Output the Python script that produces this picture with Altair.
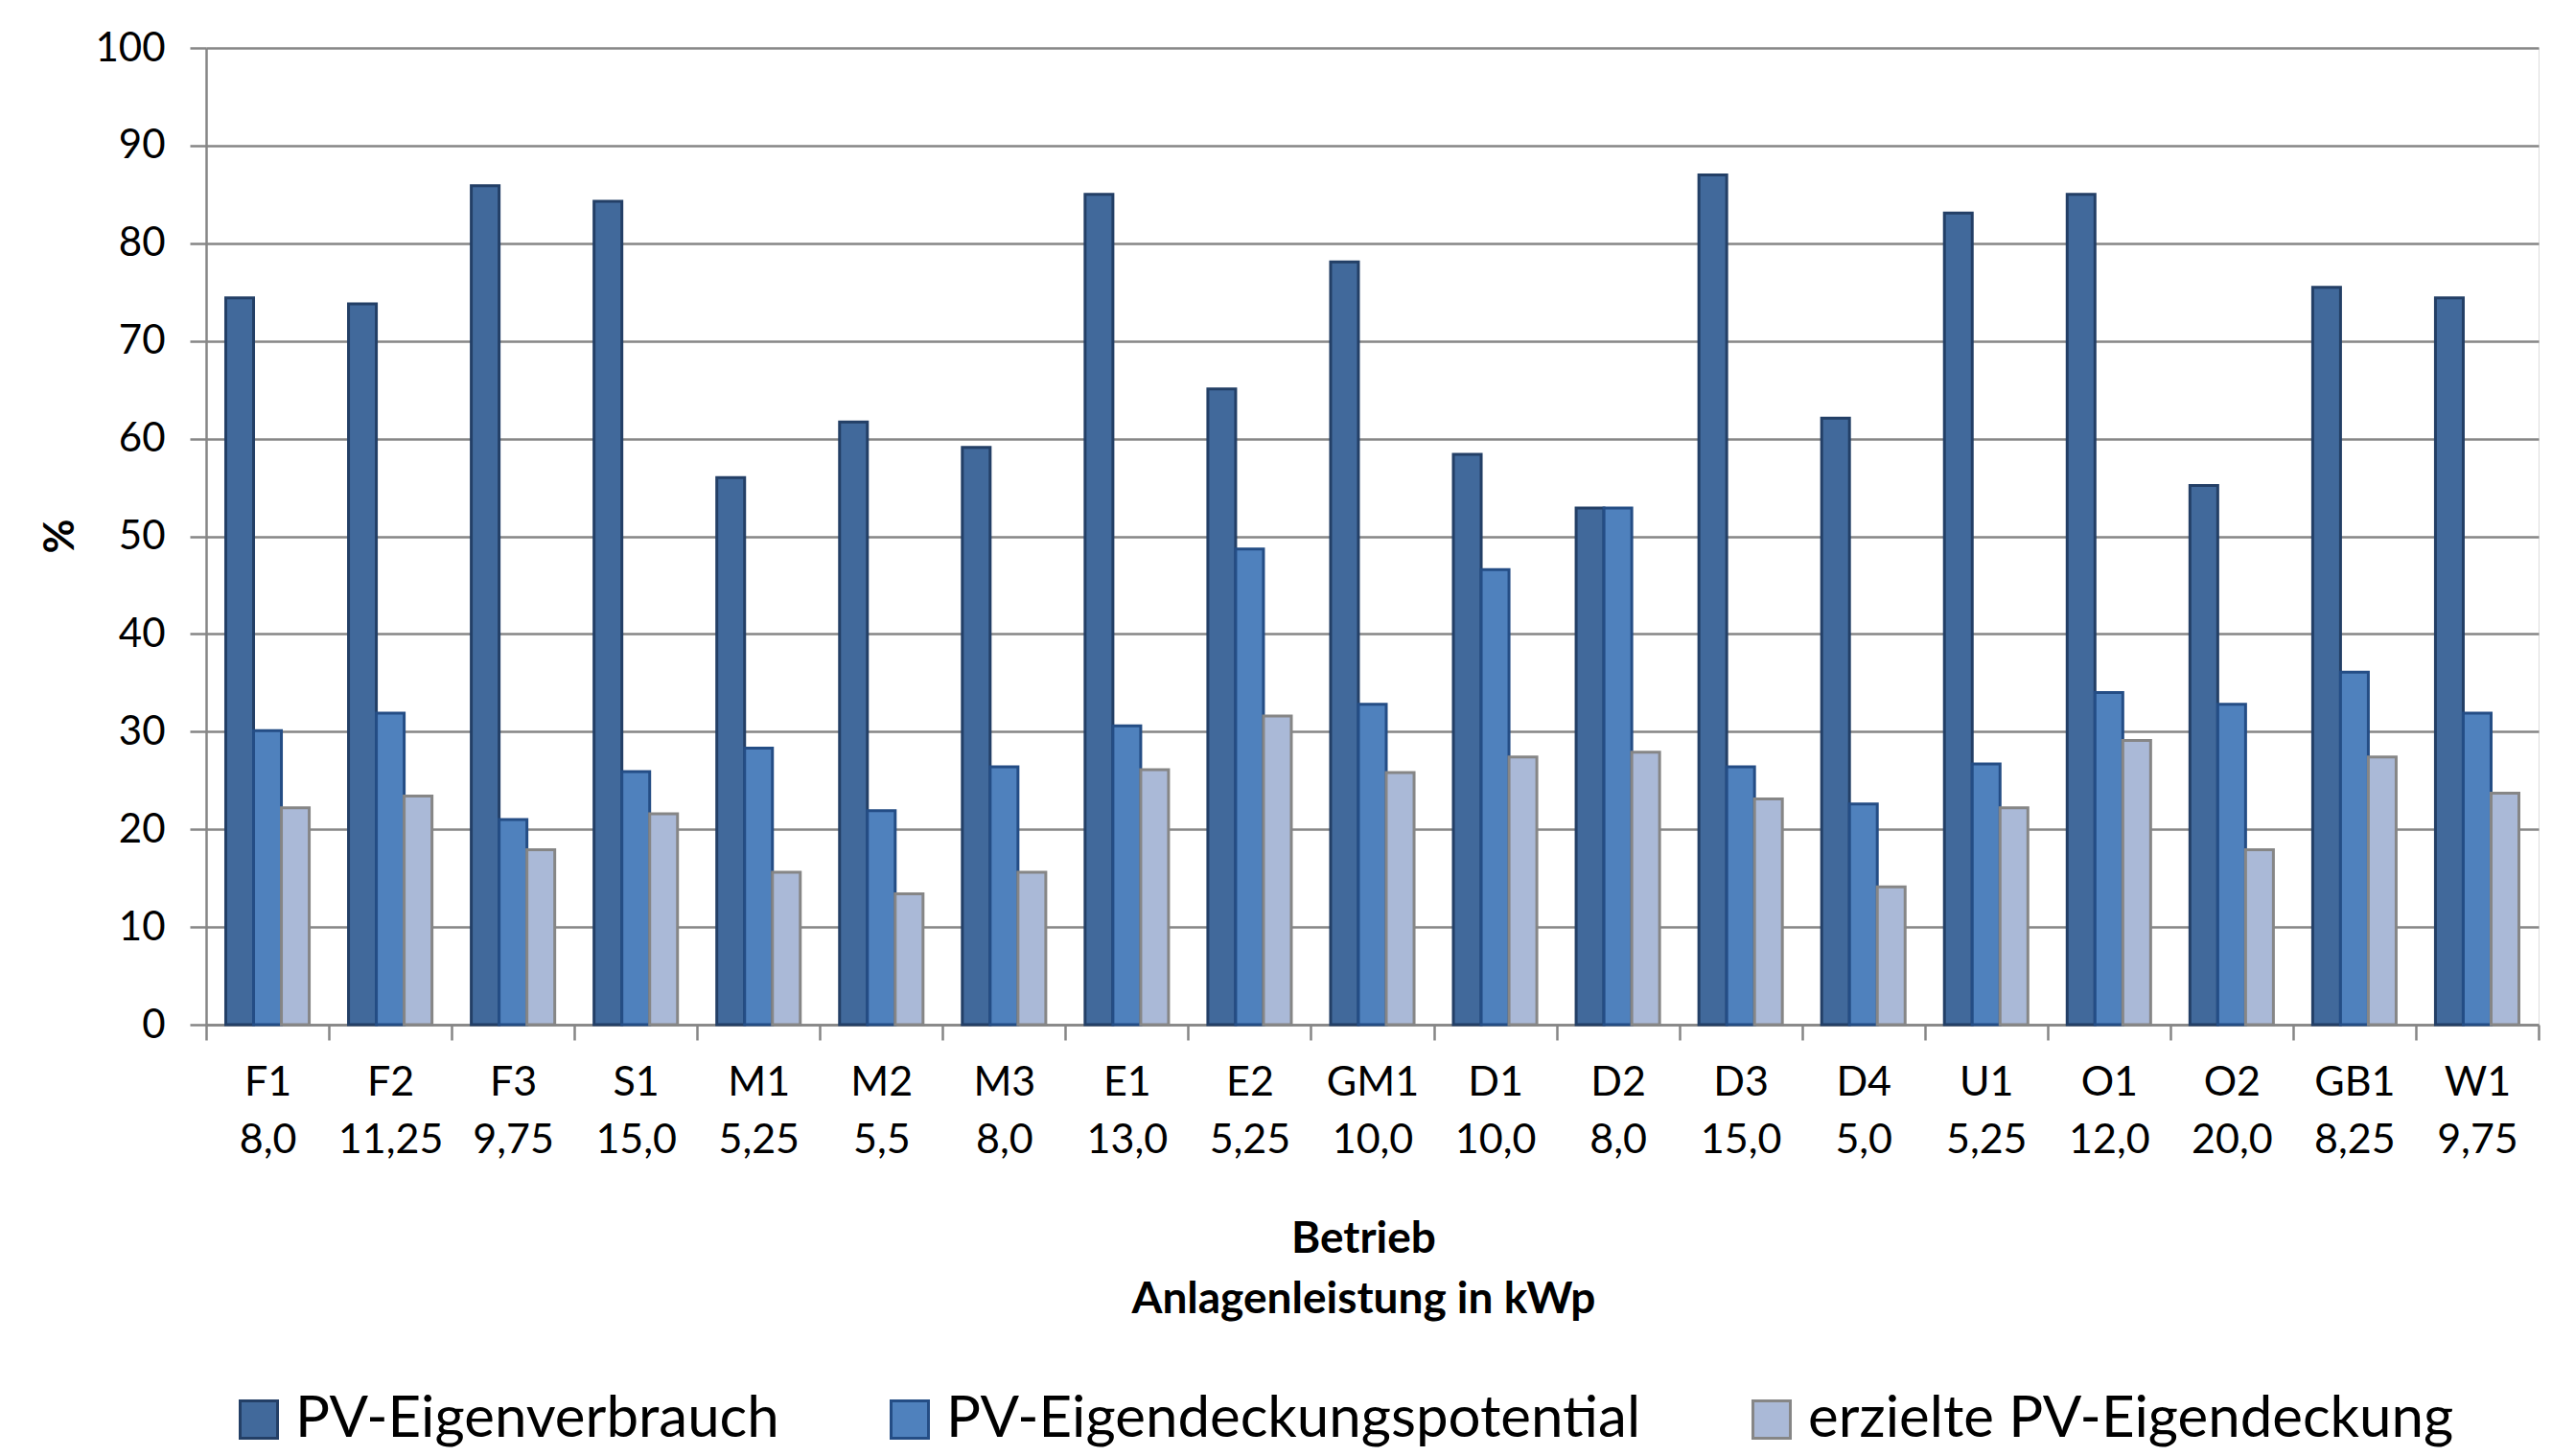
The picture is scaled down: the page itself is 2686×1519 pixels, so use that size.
import altair as alt
import pandas as pd

betrieb = ["F1", "F2", "F3", "S1", "M1", "M2", "M3", "E1", "E2", "GM1",
           "D1", "D2", "D3", "D4", "U1", "O1", "O2", "GB1", "W1"]
leistung = ["8,0", "11,25", "9,75", "15,0", "5,25", "5,5", "8,0", "13,0", "5,25", "10,0",
            "10,0", "8,0", "15,0", "5,0", "5,25", "12,0", "20,0", "8,25", "9,75"]
eigenverbrauch = [74.4, 73.8, 85.9, 84.3, 56.0, 61.7, 59.1, 85.0, 65.1, 78.1,
                  58.4, 52.9, 87.0, 62.1, 83.1, 85.0, 55.2, 75.5, 74.4]
potential = [30.1, 31.9, 21.0, 25.9, 28.3, 21.9, 26.4, 30.6, 48.7, 32.8,
             46.6, 52.9, 26.4, 22.6, 26.7, 34.0, 32.8, 36.1, 31.9]
erzielt = [22.2, 23.4, 17.9, 21.6, 15.6, 13.4, 15.6, 26.1, 31.6, 25.8,
           27.4, 27.9, 23.1, 14.1, 22.2, 29.1, 17.9, 27.4, 23.7]

series = ["PV-Eigenverbrauch", "PV-Eigendeckungspotential", "erzielte PV-Eigendeckung"]
fills = ["#41699B", "#4F81BD", "#AAB9D7"]
strokes = ["#233F66", "#244D85", "#868686"]

cats = [f"{b}|{l}" for b, l in zip(betrieb, leistung)]
rows = []
for i, c in enumerate(cats):
    for s, vals in zip(series, [eigenverbrauch, potential, erzielt]):
        rows.append({"Kategorie": c, "Reihe": s, "Wert": vals[i]})
df = pd.DataFrame(rows)

W, H = 2433, 1019
FONT = "Lato"
GRAY = "#868686"

legend = alt.Legend(
    title=None, orient="none", direction="horizontal", legendX=25, legendY=1401,
    symbolType="square", symbolSize=1521, symbolStrokeWidth=3, symbolOpacity=1,
    labelFontSize=60, labelFont=FONT, labelColor="black", labelOffset=8,
    columnPadding=106, labelLimit=1500, padding=0,
)

chart = alt.Chart(df).mark_bar(strokeWidth=3, opacity=1).encode(
    x=alt.X(
        "Kategorie:N", sort=cats,
        scale=alt.Scale(paddingInner=0, paddingOuter=0),
        axis=alt.Axis(
            title=["Betrieb", "Anlagenleistung in kWp"],
            labelExpr="split(datum.label, '|')", labelAngle=0,
            tickBand="extent", tickSize=16, tickColor=GRAY, tickWidth=2.5,
            domainColor=GRAY, domainWidth=2.5,
            labelPadding=23, labelFontSize=43, labelFont=FONT, labelLineHeight=60,
            labelColor="black", labelBaseline="top",
            titleFontSize=46, titleFont=FONT, titleFontWeight="bold", titleLineHeight=63,
            titleY=223, titleX=1207, titleBaseline="middle", titleColor="black",
            grid=False,
        ),
    ),
    xOffset=alt.XOffset(
        "Reihe:N", sort=series,
        scale=alt.Scale(domain=series, paddingInner=0, paddingOuter=0.706),
    ),
    y=alt.Y(
        "Wert:Q",
        scale=alt.Scale(domain=[0, 100], nice=False),
        axis=alt.Axis(
            values=list(range(0, 101, 10)), title="%",
            tickSize=17, tickColor=GRAY, tickWidth=2.5,
            domainColor=GRAY, domainWidth=2.5,
            gridColor=GRAY, gridWidth=2.5, grid=True,
            labelPadding=26, labelFontSize=42, labelFont=FONT, labelColor="black",
            titleFontSize=44, titleFont=FONT, titleFontWeight="bold", titleColor="black",
            titleX=-152, titleY=509, titleAngle=270, titleBaseline="middle", titleAlign="center",
        ),
    ),
    color=alt.Color("Reihe:N", sort=series,
                    scale=alt.Scale(domain=series, range=fills), legend=legend),
    stroke=alt.Stroke("Reihe:N", sort=series,
                      scale=alt.Scale(domain=series, range=strokes), legend=legend),
).properties(
    width=W, height=H,
    autosize=alt.AutoSizeParams(type="none"),
    padding={"left": 215, "top": 50, "right": 38, "bottom": 450},
).configure_view(stroke=None).configure(background="white")

chart.save("out.html", embed_options={"renderer": "svg", "actions": False})
